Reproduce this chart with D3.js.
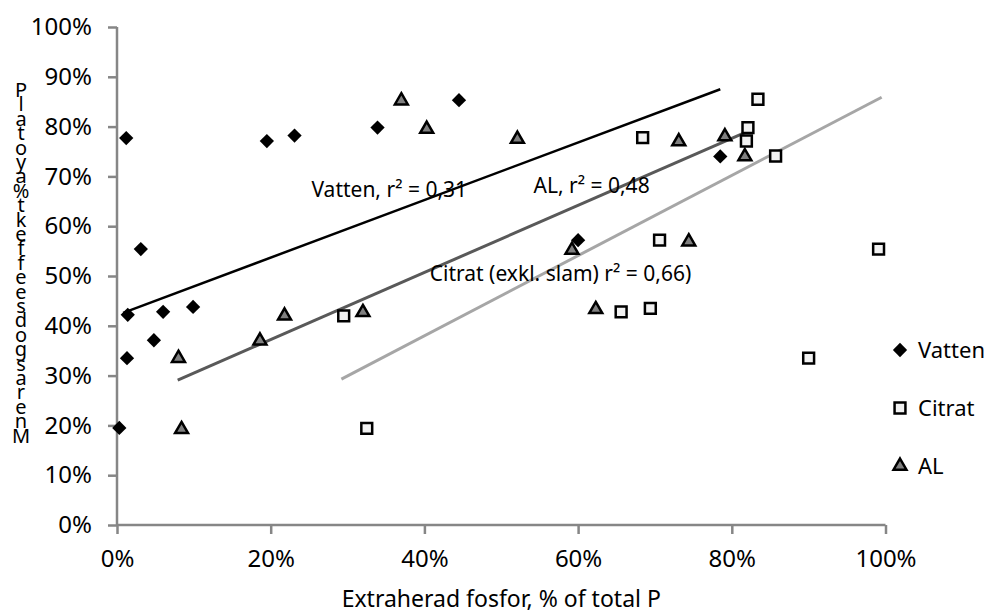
<!DOCTYPE html>
<html>
<head>
<meta charset="utf-8">
<script src="https://cdn.jsdelivr.net/npm/d3@7"></script>
<style>
  body { margin: 0; background: #fff; }
  text { font-family: 'Noto Sans', sans-serif; fill: #000; }
</style>
</head>
<body>
<div id="chart"></div>
<script>
// values, in percent: [x, y]
let vatten = [[0.3, 19.5], [1.2, 77.7], [1.3, 33.5], [1.4, 42.2], [3.1, 55.4], [4.8, 37.1], [6.0, 42.8],
  [9.9, 43.8], [19.5, 77.1], [23.1, 78.2], [33.9, 79.8], [44.5, 85.3], [60.0, 57.2], [78.5, 74.0]]
let citrat = [[29.5, 42.0], [32.5, 19.4], [65.6, 42.8], [68.4, 77.8], [69.4, 43.5], [70.6, 57.2],
  [81.9, 77.1], [82.1, 79.8], [83.4, 85.5], [85.7, 74.1], [90.0, 33.5], [99.1, 55.4]]
let al = [[8.0, 33.5], [8.4, 19.2], [18.6, 37.0], [21.8, 42.0], [32.0, 42.7], [37.0, 85.2], [40.3, 79.5],
  [52.1, 77.5], [59.2, 55.2], [62.3, 43.3], [73.1, 77.0], [74.4, 56.9], [79.1, 78.0], [81.7, 74.0]]

// trendline end points
let vattenTrend = [[0.8, 42.6], [78.5, 87.5]]
let alTrend = [[7.9, 29.1], [81.7, 78.8]]
let citratTrend = [[29.2, 29.3], [99.5, 85.9]]

let trendLabels = [
  { text: 'Vatten, r² = 0,31', x: 25.3, y: 65.9 },
  { text: 'AL, r² = 0,48', x: 54.2, y: 66.6 },
  { text: 'Citrat (exkl. slam) r² = 0,66)', x: 40.7, y: 48.9 }
]

let xTicks = [0, 20, 40, 60, 80, 100]
let yTicks = [0, 10, 20, 30, 40, 50, 60, 70, 80, 90, 100]
let legendNames = ['Vatten', 'Citrat', 'AL']
let xTitle = 'Extraherad fosfor, % of total P'
let yTitleChars = ['P', 'l', 'a', 't', 'o', 'y', 'a', '%', 't', 'k', 'e', 'f', 'f', 'e', 'e', 's', 'd', 'o', 'g', 's', 'a', 'r', 'e', 'n', 'M']

let w = 994
let h = 614
let margin = { left: 117, right: 108.5, top: 27, bottom: 89 }

let svg = d3.select('#chart').append('svg')
  .attr('width', w)
  .attr('height', h)

let x = d3.scaleLinear().domain([0, 100]).range([margin.left, w - margin.right])
let y = d3.scaleLinear().domain([0, 100]).range([h - margin.bottom, margin.top])

let axisColor = '#868686'

// axes
let xAxis = svg.append('g')
  .attr('transform', 'translate(0,' + y(0) + ')')
  .call(d3.axisBottom(x).tickValues(xTicks).tickSize(9).tickPadding(16).tickFormat(d => d + '%'))
let yAxis = svg.append('g')
  .attr('transform', 'translate(' + x(0) + ',0)')
  .call(d3.axisLeft(y).tickValues(yTicks).tickSize(9).tickPadding(16).tickFormat(d => d + '%'))

;[xAxis, yAxis].forEach(function (g) {
  g.select('.domain').attr('stroke', axisColor).attr('stroke-width', 2.5)
  g.selectAll('.tick line').attr('stroke', axisColor).attr('stroke-width', 2.5)
  g.selectAll('.tick text').attr('font-size', 24).attr('font-family', 'Noto Sans').attr('fill', '#000')
})
xAxis.select('.domain').attr('d', 'M' + x(0) + ',0H' + x(100))
yAxis.select('.domain').attr('d', 'M0,' + y(0) + 'V' + y(100))

// axis titles
svg.append('text')
  .attr('x', (x(0) + x(100)) / 2)
  .attr('y', 607)
  .attr('text-anchor', 'middle')
  .attr('font-size', 23)
  .text(xTitle)

// broken vertical title, one glyph per row as in the picture
svg.append('g').selectAll('text')
  .data(yTitleChars)
  .enter().append('text')
  .attr('x', 21)
  .attr('y', (d, i) => 97 + i * 14.4)
  .attr('text-anchor', 'middle')
  .attr('font-size', 20)
  .text(d => d)

// trendlines
let line = d3.line().x(d => x(d[0])).y(d => y(d[1]))
let trends = [
  { pts: vattenTrend, color: '#000000', width: 2.5 },
  { pts: alTrend, color: '#595959', width: 3 },
  { pts: citratTrend, color: '#a6a6a6', width: 3 }
]
svg.append('g').selectAll('path')
  .data(trends)
  .enter().append('path')
  .attr('d', d => line(d.pts))
  .attr('fill', 'none')
  .attr('stroke', d => d.color)
  .attr('stroke-width', d => d.width)

svg.append('g').selectAll('text')
  .data(trendLabels)
  .enter().append('text')
  .attr('x', d => x(d.x))
  .attr('y', d => y(d.y))
  .attr('font-size', 21)
  .text(d => d.text)

// markers
let diamond = d3.symbol().type(d3.symbolDiamond2).size(130)
let square = d3.symbol().type(d3.symbolSquare2).size(150)
let triangle = d3.symbol().type(d3.symbolTriangle2).size(120)

let series = [
  { name: 'Vatten', data: vatten, shape: diamond, fill: '#000000', stroke: 'none', sw: 0 },
  { name: 'Citrat', data: citrat, shape: square, fill: '#f2f2f2', stroke: '#000000', sw: 2.5 },
  { name: 'AL', data: al, shape: triangle, fill: '#808080', stroke: '#000000', sw: 2.5 }
]

series.forEach(function (s) {
  svg.append('g').selectAll('path')
    .data(s.data)
    .enter().append('path')
    .attr('transform', d => 'translate(' + x(d[0]) + ',' + y(d[1]) + ')')
    .attr('d', s.shape)
    .attr('fill', s.fill)
    .attr('stroke', s.stroke)
    .attr('stroke-width', s.sw)
})

// legend
let legend = svg.append('g').selectAll('g')
  .data(series)
  .enter().append('g')
  .attr('transform', (d, i) => 'translate(900,' + (350 + i * 58) + ')')
legend.append('path')
  .attr('d', d => d.shape())
  .attr('fill', d => d.fill)
  .attr('stroke', d => d.stroke)
  .attr('stroke-width', d => d.sw)
legend.append('text')
  .attr('x', 18)
  .attr('dy', '0.35em')
  .attr('font-size', 22)
  .text(d => d.name)
</script>
</body>
</html>
